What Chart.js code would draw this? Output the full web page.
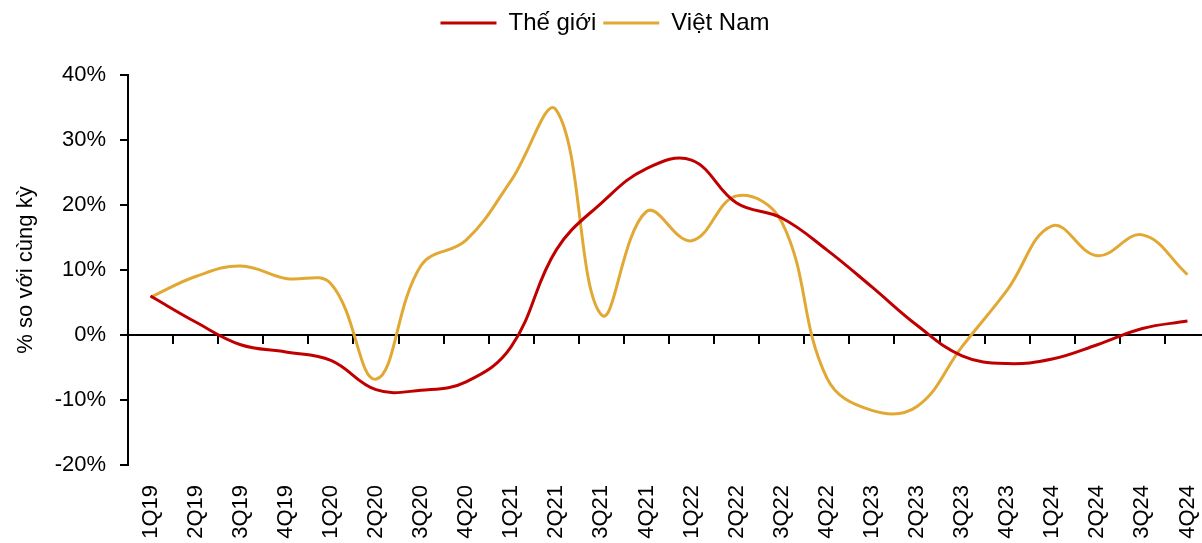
<!DOCTYPE html>
<html>
<head>
<meta charset="utf-8">
<script src="https://cdn.jsdelivr.net/npm/chart.js@4"></script>
<style>
  html, body { margin: 0; padding: 0; background: #fff; overflow: hidden; }
  #wrap { width: 1212px; height: 543px; position: relative; }
</style>
</head>
<body>
<div id="wrap"><canvas id="theChart" width="1212" height="543"></canvas></div>
<script>
const quarters = ["1Q19","2Q19","3Q19","4Q19","1Q20","2Q20","3Q20","4Q20","1Q21","2Q21","3Q21","4Q21",
  "1Q22","2Q22","3Q22","4Q22","1Q23","2Q23","3Q23","4Q23","1Q24","2Q24","3Q24","4Q24"];
const theGioi = [6.0, 2.0, -1.5, -2.6, -3.9, -8.4, -8.5, -7.2, -1.8, 13.1, 20.3, 25.6,
  26.9, 20.3, 18.0, 13.1, 7.4, 1.5, -3.2, -4.4, -3.7, -1.5, 1.0, 2.15];
const vietNam = [5.8, 9.0, 10.6, 8.7, 7.9, -6.8, 10.7, 14.6, 23.8, 34.6, 3.1, 19.0,
  14.5, 21.4, 17.4, -6.6, -11.6, -11.0, -1.8, 6.9, 16.8, 12.2, 15.4, 9.3];

const fontFamily = "'Liberation Sans', Arial, sans-serif";
const chartArea = document.querySelector("#theChart");

// legend takes fixed room so the plot starts at y = 75
const legendSpacer = {
  id: "legendSpacer",
  afterInit(chart) {
    const legend = chart.legend;
    const fit = legend.fit.bind(legend);
    legend.fit = function () {
      fit();
      this.height = 71;
    };
  },
};

const data = {
  labels: quarters,
  datasets: [
    {
      label: "Thế giới",
      data: theGioi,
      borderColor: "#C00000",
      backgroundColor: "#C00000",
      borderWidth: 3,
      pointRadius: 0,
      tension: 0.4,
      xAxisID: "x",
    },
    {
      label: "Việt Nam",
      data: vietNam,
      borderColor: "#E2A834",
      backgroundColor: "#E2A834",
      borderWidth: 3,
      pointRadius: 0,
      tension: 0.4,
      xAxisID: "x",
    },
  ],
};

const config = {
  type: "line",
  data,
  plugins: [legendSpacer],
  options: {
    responsive: false,
    animation: false,
    layout: { padding: { top: 4, right: 2, left: 0, bottom: 0 } },
    plugins: {
      tooltip: { enabled: false },
      legend: {
        position: "top",
        labels: {
          usePointStyle: true,
          pointStyle: "line",
          pointStyleWidth: 56,
          padding: 7,
          color: "#000",
          font: { family: fontFamily, size: 24 },
        },
      },
    },
    scales: {
      x: {
        type: "category",
        position: "bottom",
        offset: true,
        grid: { display: false, drawTicks: false },
        border: { display: false },
        ticks: {
          minRotation: 90,
          maxRotation: 90,
          autoSkip: false,
          padding: 20,
          color: "#000",
          font: { family: fontFamily, size: 22 },
        },
        afterFit(scale) {
          scale.height = 78;
          scale.paddingLeft = 0;
          scale.paddingRight = 0;
        },
      },
      x0: {
        type: "category",
        position: { y: 0 },
        offset: true,
        grid: {
          offset: true,
          drawOnChartArea: false,
          drawTicks: true,
          tickLength: 8,
          color: "#000",
          lineWidth: 2,
        },
        border: { display: true, color: "#000", width: 2 },
        ticks: { display: false },
        afterFit(scale) {
          scale.paddingLeft = 0;
          scale.paddingRight = 0;
        },
      },
      y: {
        min: -20,
        max: 40,
        position: "left",
        grid: {
          drawOnChartArea: false,
          drawTicks: true,
          tickLength: 8,
          color: "#000",
          lineWidth: 2,
        },
        border: { display: true, color: "#000", width: 2 },
        ticks: {
          stepSize: 10,
          padding: 14,
          color: "#000",
          font: { family: fontFamily, size: 22 },
          callback: (v) => v + "%",
        },
        title: {
          display: true,
          text: "% so với cùng kỳ",
          color: "#000",
          font: { family: fontFamily, size: 22 },
          padding: { top: 13, bottom: 8 },
        },
        afterFit(scale) { scale.width = 128; },
      },
    },
  },
};

const myChart = new Chart(chartArea, config);
</script>
</body>
</html>
